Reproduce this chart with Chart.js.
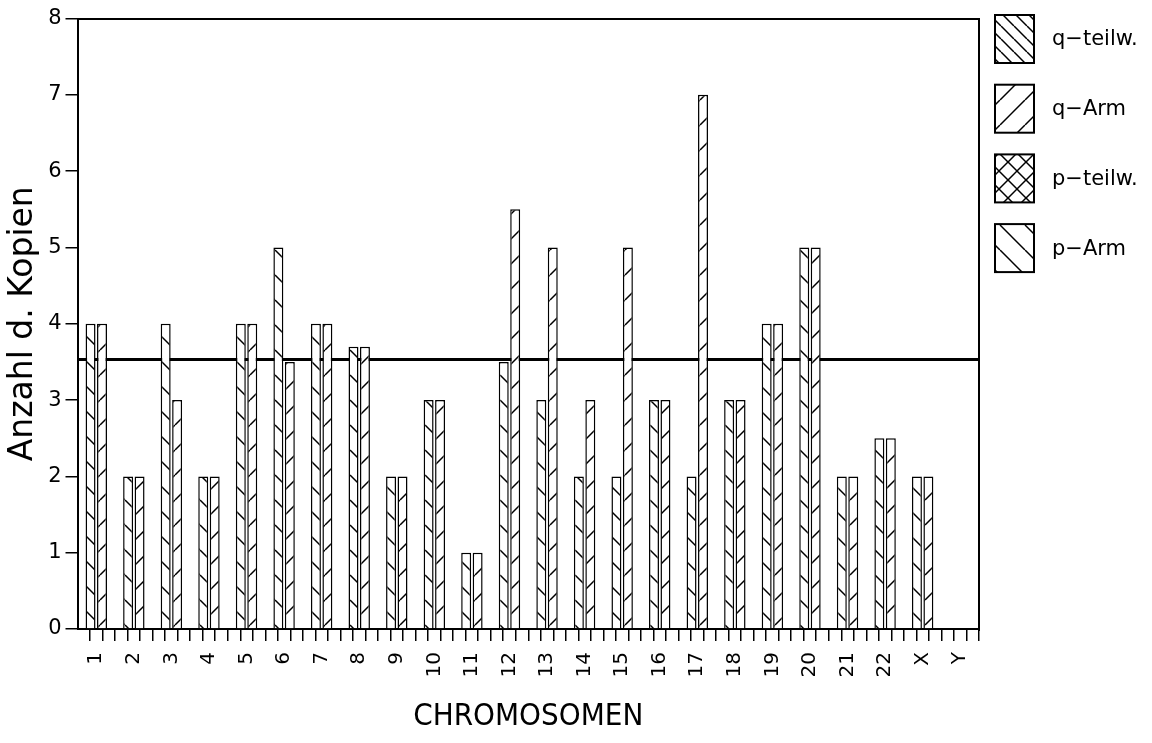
<!DOCTYPE html>
<html lang="de">
<head>
<meta charset="UTF-8">
<title>Anzahl d. Kopien je Chromosom</title>
<script src="https://cdn.jsdelivr.net/npm/chart.js"></script>
<style>
  html, body { margin: 0; padding: 0; background: #fff; }
  #wrap { width: 1152px; height: 743px; position: relative; }
</style>
</head>
<body>
<div id="wrap"><canvas id="copies"></canvas></div>
<script>
// data
const chromosomes = ['1','2','3','4','5','6','7','8','9','10','11','12',
                     '13','14','15','16','17','18','19','20','21','22','X','Y'];
const pArm = [4, 2, 4, 2, 4, 5,   4, 3.7, 2, 3, 1, 3.5, 3, 2, 2, 3, 2, 3, 4, 5, 2, 2.5, 2, 0];
const qArm = [4, 2, 3, 2, 4, 3.5, 4, 3.7, 2, 3, 1, 5.5, 5, 3, 5, 3, 7, 3, 4, 5, 2, 2.5, 2, 0];
const threshold = 3.53;
const legendLabels = ['q\u2212teilw.', 'q\u2212Arm', 'p\u2212teilw.', 'p\u2212Arm'];
const ticksPerChromosome = 3;

// hatch fills, plotter style
function hatch(step, dirs) {
    const c = document.createElement('canvas');
    c.width = c.height = step;
    const g = c.getContext('2d');
    g.fillStyle = '#fff';
    g.fillRect(0, 0, step, step);
    g.strokeStyle = '#000';
    g.lineWidth = 1.5;
    dirs.forEach(d => {
        for (let k = -1; k <= 1; k++) {
            g.beginPath();
            if (d === '\\') { g.moveTo(k * step, 0); g.lineTo(k * step + step, step); }
            else { g.moveTo(k * step, step); g.lineTo(k * step + step, 0); }
            g.stroke();
        }
    });
    return g.createPattern(c, 'repeat');
}

const fills = {
    qPart: hatch(13, ['\\']),
    qArm: hatch(25, ['/']),
    pPart: hatch(18, ['\\', '/']),
    pArm: hatch(25, ['\\'])
};

// legend boxes to the right of the frame
const sideLegend = {
    id: 'sideLegend',
    afterDraw(chart) {
        const ctx = chart.ctx;
        const x0 = chart.chartArea.right + 16;
        const boxFills = [fills.qPart, fills.qArm, fills.pPart, fills.pArm];
        ctx.save();
        ctx.font = '21px "DejaVu Sans"';
        ctx.textBaseline = 'middle';
        legendLabels.forEach((txt, i) => {
            const y = 15 + i * 69.7;
            ctx.fillStyle = boxFills[i];
            ctx.fillRect(x0, y, 39, 48);
            ctx.lineWidth = 2;
            ctx.strokeStyle = '#000';
            ctx.strokeRect(x0, y, 39, 48);
            ctx.fillStyle = '#000';
            ctx.fillText(txt, x0 + 57, y + 25);
        });
        ctx.restore();
    }
};

const frame = { display: true, offset: false, ticks: { display: false },
                grid: { display: false, drawTicks: false },
                border: { display: true, color: '#000', width: 2 } };

new Chart(document.getElementById('copies'), {
    type: 'bar',
    data: {
        labels: chromosomes,
        datasets: [
            { label: 'p-Arm', data: pArm, backgroundColor: fills.pArm,
              borderColor: '#000', borderWidth: 1.5, categoryPercentage: 0.61, barPercentage: 0.87 },
            { label: 'q-Arm', data: qArm, backgroundColor: fills.qArm,
              borderColor: '#000', borderWidth: 1.5, categoryPercentage: 0.61, barPercentage: 0.87 }
        ]
    },
    options: {
        responsive: true,
        maintainAspectRatio: false,
        animation: false,
        layout: { padding: { top: 18.5, right: 173, bottom: 0, left: 0 } },
        plugins: { legend: { display: false }, tooltip: { enabled: false } },
        scales: {
            x: {
                type: 'category', position: 'bottom', weight: 1, offset: true,
                grid: { display: false, drawTicks: true, tickLength: 12 },
                border: { display: true, color: '#000', width: 2 },
                ticks: { autoSkip: false, minRotation: 90, maxRotation: 90, padding: 11, color: '#000',
                         font: { family: '"DejaVu Sans"', size: 20 } },
                title: { display: true, text: 'CHROMOSOMEN', color: '#000',
                         font: { family: '"Liberation Sans Narrow", "DejaVu Sans Condensed", "Liberation Sans"', size: 31, lineHeight: 1.1 },
                         padding: { top: 0, bottom: 9 } },
                afterFit(s) { s.height = 743 - 629; }
            },
            // three small ticks per chromosome under the axis
            xt: {
                type: 'linear', axis: 'x', position: 'bottom', weight: 0, offset: false,
                min: 0, max: chromosomes.length * ticksPerChromosome,
                ticks: { display: false, stepSize: 1 },
                grid: { drawOnChartArea: false, tickLength: 12, lineWidth: 1.5, offset: false,
                        color: c => c.tick && c.tick.value === 0 ? 'rgba(0,0,0,0)' : '#000' },
                border: { display: false },
                afterFit(s) { s.height = 0; }
            },
            xtop: Object.assign({ type: 'linear', axis: 'x', position: 'top',
                                  afterFit(s) { s.height = 0; } }, frame),
            y: {
                min: 0, max: 8,
                ticks: { stepSize: 1, color: '#000', padding: 4, font: { family: '"DejaVu Sans"', size: 21 } },
                grid: { drawOnChartArea: false, tickLength: 12, color: '#000', lineWidth: 1.5 },
                border: { color: '#000', width: 2 },
                title: { display: true, text: 'Anzahl d. Kopien', color: '#000',
                         font: { family: '"DejaVu Sans"', size: 33, lineHeight: 1.2 },
                         padding: { top: 4, bottom: 0 } },
                afterFit(s) { s.width = 77.5; }
            },
            // horizontal threshold line, drawn as a grid line over the bars
            yt: {
                type: 'linear', axis: 'y', position: 'right', min: 0, max: 8, z: 1,
                afterBuildTicks(s) { s.ticks = [{ value: threshold }]; },
                ticks: { display: false },
                grid: { drawOnChartArea: true, drawTicks: false, color: '#000', lineWidth: 3 },
                border: { display: true, color: '#000', width: 2 },
                afterFit(s) { s.width = 0; }
            }
        }
    },
    plugins: [sideLegend]
});
</script>
</body>
</html>
